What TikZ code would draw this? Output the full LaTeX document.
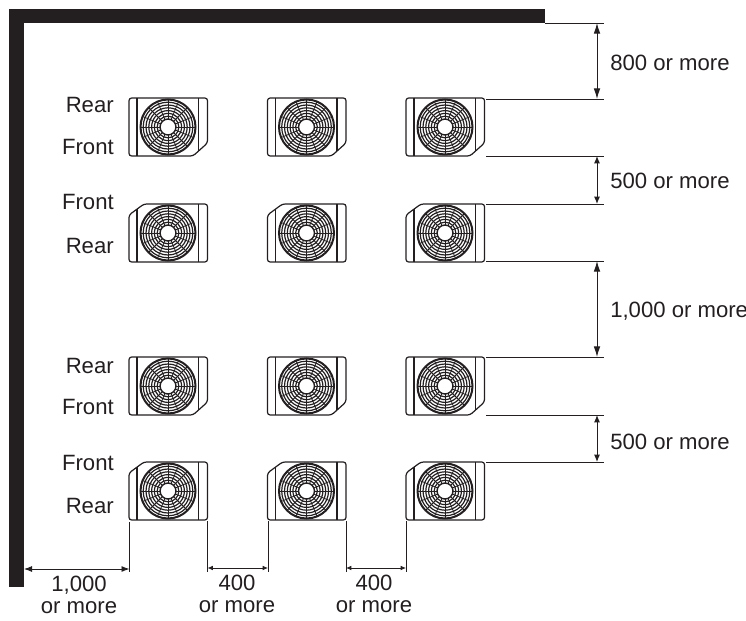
\documentclass[tikz,border=0pt]{standalone}
\usepackage{fontspec}
\setmainfont{Liberation Sans}
\usetikzlibrary{arrows.meta}
\definecolor{ink}{HTML}{231F20}
\tikzset{
  x=0.75pt,y=-0.75pt,
  wall/.style={fill=ink,draw=none},
  body/.style={draw=ink,line width=0.9pt,rounded corners=2pt},
  pnl/.style={draw=ink,line width=0.8pt},
  ring/.style={draw=ink,line width=0.9pt},
  rim/.style={draw=ink,line width=1.5pt},
  ext/.style={draw=ink,line width=0.6pt},
  dimbig/.style={draw=ink,line width=0.75pt,{Latex[length=8pt,width=5pt]}-{Latex[length=8pt,width=5pt]}},
  dimmid/.style={draw=ink,line width=0.75pt,{Latex[length=5.5pt,width=4.5pt]}-{Latex[length=5.5pt,width=4.5pt]}},
  dimh/.style={draw=ink,line width=0.7pt,{Latex[length=6pt,width=4.5pt]}-{Latex[length=6pt,width=4.5pt]}},
  dimsm/.style={draw=ink,line width=0.6pt,{Latex[length=4pt,width=3.5pt]}-{Latex[length=4pt,width=3.5pt]}},
  lbl/.style={font=\fontsize{16.6pt}{19pt}\selectfont,text=ink,inner sep=0pt},
}
% #1 name, #2 left x, #3 top y, #4 1 = cut corner lower right, 0 = upper left
\newcommand{\acunit}[4]{%
  \coordinate (#1c) at (#2+39,#3+29);
  \ifnum#4=1
    \draw[body] (#2,#3) -- (#2+78.5,#3) -- (#2+78.5,#3+45) -- (#2+64,#3+58) -- (#2,#3+58) -- cycle;
    \draw[pnl] (#2+8,#3) -- (#2+8,#3+58) (#2+69.5,#3) -- (#2+69.5,#3+53);
  \else
    \draw[body] (#2+15,#3) -- (#2+78.5,#3) -- (#2+78.5,#3+58) -- (#2,#3+58) -- (#2,#3+11) -- cycle;
    \draw[pnl] (#2+8,#3+5) -- (#2+8,#3+58) (#2+69.5,#3) -- (#2+69.5,#3+58);
  \fi
  \foreach \r in {10.8,13.6,16.4,19.2,22,24.8}{\draw[ring] (#1c) circle[radius=\r];}
  \draw[rim] (#1c) circle[radius=27.5];
  \draw[ring,line width=1.1pt] (#1c) circle[radius=8];
  \foreach \a in {0,22.5,...,337.5}{\draw[ring,line width=0.6pt] ([shift={(\a:8)}]#1c) -- ([shift={(\a:27)}]#1c);}
}
\begin{document}
\begin{tikzpicture}
\useasboundingbox (0,0) rectangle (746,621);
\fill[wall] (9,9) rectangle (545,23);
\fill[wall] (9,9) rectangle (24,587);
\acunit{a1}{129}{98}{1}\acunit{a2}{267.5}{98}{1}\acunit{a3}{406}{98}{1}
\acunit{b1}{129}{204}{0}\acunit{b2}{267.5}{204}{0}\acunit{b3}{406}{204}{0}
\acunit{c1}{129}{357}{1}\acunit{c2}{267.5}{357}{1}\acunit{c3}{406}{357}{1}
\acunit{d1}{129}{462}{0}\acunit{d2}{267.5}{462}{0}\acunit{d3}{406}{462}{0}
% row labels
\foreach \t/\y in {Rear/105,Front/147,Front/202,Rear/246,Rear/366,Front/407,Front/463,Rear/506}{
  \node[lbl,anchor=east] at (114,\y) {\t};}
% right extension lines
\coordinate (wt) at (545,23);
\coordinate (xr) at (604,0);
\draw[ext] (wt) -- (wt -| xr);
\foreach \y in {99,156,204,261,357,415,462}{\draw[ext] (486,\y) -- (604,\y);}
\draw[dimbig] (597,23) -- (597,99);
\draw[dimmid] (597,156) -- (597,204);
\draw[dimbig] (597,261) -- (597,357);
\draw[dimmid] (597,415) -- (597,462);
\node[lbl,anchor=west] at (610,63) {800 or more};
\node[lbl,anchor=west] at (610,181) {500 or more};
\node[lbl,anchor=west] at (610,311) {1,000 or more};
\node[lbl,anchor=west] at (610,442) {500 or more};
% bottom extension lines
\foreach \x/\t in {129.5/522,207.5/521,268/521,346/521,406/521}{\draw[ext] (\x,\t) -- (\x,572);}
\draw[dimh] (24,569) -- (129.5,569);
\draw[dimsm] (207.5,568) -- (268,568);
\draw[dimsm] (346,568) -- (406,568);
\foreach \x/\t/\yy in {79/{1,000}/585,237/400/583,374/400/583}{\node[lbl] at (\x,\yy) {\t};}
\foreach \x/\yy in {79/608,237/607,374/607}{\node[lbl] at (\x,\yy) {or more};}
\end{tikzpicture}
\end{document}
